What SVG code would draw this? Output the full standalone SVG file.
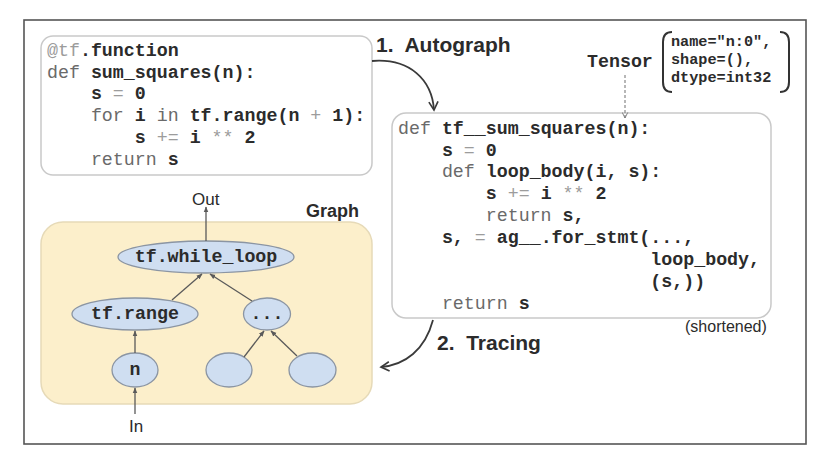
<svg xmlns="http://www.w3.org/2000/svg" width="813" height="455" viewBox="0 0 813 455">
<style>
.code{font-family:"Liberation Mono","Courier New",monospace;font-size:18.3px}
.k{fill:#6a6a6a;font-weight:normal}
.b{fill:#2b2b2b;font-weight:bold}
.o{fill:#9c9c9c;font-weight:normal}
.lbl{font-family:"Liberation Sans",Arial,sans-serif;fill:#2b2b2b}
.h{font-weight:bold;font-size:21px}
.box{fill:#ffffff;stroke:#c9c9c9;stroke-width:1.5}
.ell{fill:#cfdef1;stroke:#8b95a3;stroke-width:1.3}
.edge{stroke:#5a5a5a;stroke-width:1.3;fill:none}
.curve{stroke:#3a3a3a;stroke-width:1.8;fill:none}
</style>
<defs>
<marker id="ah" viewBox="0 0 10 10" refX="9" refY="5" markerWidth="6" markerHeight="6" orient="auto-start-reverse" markerUnits="userSpaceOnUse">
<path d="M0,1 L10,5 L0,9 z" fill="#5a5a5a"/>
</marker>
<marker id="open" viewBox="0 0 12 12" refX="10" refY="6" markerWidth="11" markerHeight="11" orient="auto" markerUnits="userSpaceOnUse">
<path d="M1,1 L10,6 L1,11" fill="none" stroke="#3a3a3a" stroke-width="1.8"/>
</marker>
<marker id="dah" viewBox="0 0 10 10" refX="9" refY="5" markerWidth="7" markerHeight="7" orient="auto" markerUnits="userSpaceOnUse">
<path d="M1,1 L9,5 L1,9" fill="none" stroke="#777" stroke-width="1.3"/>
</marker>
</defs>
<rect x="0" y="0" width="813" height="455" fill="#ffffff"/>
<rect id="frame" x="24" y="20" width="782" height="424" fill="none" stroke="#555" stroke-width="1.6"/>

<g id="python-code">
<rect class="box" x="41" y="36" width="331" height="139" rx="12"/>
<text class="code" xml:space="preserve" x="47" y="56"><tspan class="o">@tf</tspan><tspan class="b">.function</tspan></text>
<text class="code" xml:space="preserve" x="47" y="78"><tspan class="k">def </tspan><tspan class="b">sum_squares(n):</tspan></text>
<text class="code" xml:space="preserve" x="47" y="99"><tspan class="b">    s </tspan><tspan class="o">=</tspan><tspan class="b"> 0</tspan></text>
<text class="code" xml:space="preserve" x="47" y="121"><tspan class="k">    for</tspan><tspan class="b"> i </tspan><tspan class="k">in</tspan><tspan class="b"> tf.range(n </tspan><tspan class="o">+</tspan><tspan class="b"> 1):</tspan></text>
<text class="code" xml:space="preserve" x="47" y="143"><tspan class="b">        s </tspan><tspan class="o">+=</tspan><tspan class="b"> i </tspan><tspan class="o">**</tspan><tspan class="b"> 2</tspan></text>
<text class="code" xml:space="preserve" x="47" y="165"><tspan class="k">    return</tspan><tspan class="b"> s</tspan></text>
</g>

<g id="tf-code">
<rect class="box" x="392" y="113" width="379" height="205" rx="14"/>
<text class="code" xml:space="preserve" x="398" y="134"><tspan class="k">def</tspan><tspan class="b"> tf__sum_squares(n):</tspan></text>
<text class="code" xml:space="preserve" x="398" y="156"><tspan class="b">    s </tspan><tspan class="o">=</tspan><tspan class="b"> 0</tspan></text>
<text class="code" xml:space="preserve" x="398" y="177"><tspan class="k">    def</tspan><tspan class="b"> loop_body(i, s):</tspan></text>
<text class="code" xml:space="preserve" x="398" y="199"><tspan class="b">        s </tspan><tspan class="o">+=</tspan><tspan class="b"> i </tspan><tspan class="o">**</tspan><tspan class="b"> 2</tspan></text>
<text class="code" xml:space="preserve" x="398" y="221"><tspan class="k">        return</tspan><tspan class="b"> s,</tspan></text>
<text class="code" xml:space="preserve" x="398" y="243"><tspan class="b">    s, </tspan><tspan class="o">=</tspan><tspan class="b"> ag__.for_stmt(...,</tspan></text>
<text class="code" xml:space="preserve" x="398" y="265"><tspan class="b">                       loop_body,</tspan></text>
<text class="code" xml:space="preserve" x="398" y="287"><tspan class="b">                       (s,))</tspan></text>
<text class="code" xml:space="preserve" x="398" y="309"><tspan class="k">    return</tspan><tspan class="b"> s</tspan></text>
</g>

<g id="tensor">
<text class="code b" x="587" y="67">Tensor</text>
<path d="M672,32 Q663,32 663,42 L663,82 Q663,92 672,92" fill="none" stroke="#333" stroke-width="2"/>
<path d="M780,32 Q789,32 789,42 L789,82 Q789,92 780,92" fill="none" stroke="#333" stroke-width="2"/>
<text class="code b" style="font-size:15.2px" x="671" y="46">name="n:0",</text>
<text class="code b" style="font-size:15.2px" x="671" y="64">shape=(),</text>
<text class="code b" style="font-size:15.2px" x="671" y="82">dtype=int32</text>
</g>

<g id="labels">
<text class="lbl h" xml:space="preserve" x="376" y="52">1.  Autograph</text>
<text class="lbl h" xml:space="preserve" x="437" y="350">2.  Tracing</text>
<text class="lbl" style="font-size:16px" x="685" y="332">(shortened)</text>
</g>

<g id="graph">
<rect x="41" y="222" width="331" height="182" rx="22" fill="#fcefcb" stroke="#e6dab8" stroke-width="1.5"/>
<text class="lbl" style="font-size:18px;font-weight:bold" x="306" y="217">Graph</text>
<text class="lbl" style="font-size:17px" x="192" y="205">Out</text>
<text class="lbl" style="font-size:17px" x="129" y="432">In</text>
</g>

<g id="node-while">
<ellipse class="ell" cx="206" cy="257" rx="88" ry="16"/>
<text class="code b" x="206" y="262" text-anchor="middle">tf.while_loop</text>
</g>
<g id="node-range">
<ellipse class="ell" cx="135" cy="314" rx="63" ry="16"/>
<text class="code b" x="135" y="319" text-anchor="middle">tf.range</text>
</g>
<g id="node-dots">
<ellipse class="ell" cx="267" cy="314" rx="23.5" ry="16"/>
<text class="code b" x="267" y="319" text-anchor="middle">...</text>
</g>
<g id="node-n">
<ellipse class="ell" cx="135" cy="370" rx="23" ry="17"/>
<text class="code b" x="135" y="375" text-anchor="middle">n</text>
</g>
<g id="node-a">
<ellipse class="ell" cx="229" cy="370" rx="23" ry="17"/>
</g>
<g id="node-b">
<ellipse class="ell" cx="312.5" cy="370" rx="23.5" ry="17"/>
</g>

<g id="connectors">
<line class="edge" x1="206" y1="241" x2="206" y2="207" marker-end="url(#ah)"/>
<line class="edge" x1="172" y1="300" x2="202" y2="274" marker-end="url(#ah)"/>
<line class="edge" x1="252" y1="301" x2="210" y2="274" marker-end="url(#ah)"/>
<line class="edge" x1="135" y1="353" x2="135" y2="331" marker-end="url(#ah)"/>
<line class="edge" x1="135" y1="414" x2="135" y2="388" marker-end="url(#ah)"/>
<line class="edge" x1="244" y1="357" x2="264" y2="331" marker-end="url(#ah)"/>
<line class="edge" x1="297" y1="356" x2="271" y2="331" marker-end="url(#ah)"/>
<line x1="625" y1="75" x2="625" y2="118" stroke="#888" stroke-width="1.2" stroke-dasharray="3,2" marker-end="url(#dah)"/>
<path class="curve" d="M372,61 C410,58 432,80 434,110" marker-end="url(#open)"/>
<path class="curve" d="M433,320 C425,350 405,365 381,367" marker-end="url(#open)"/>
</g>
</svg>
